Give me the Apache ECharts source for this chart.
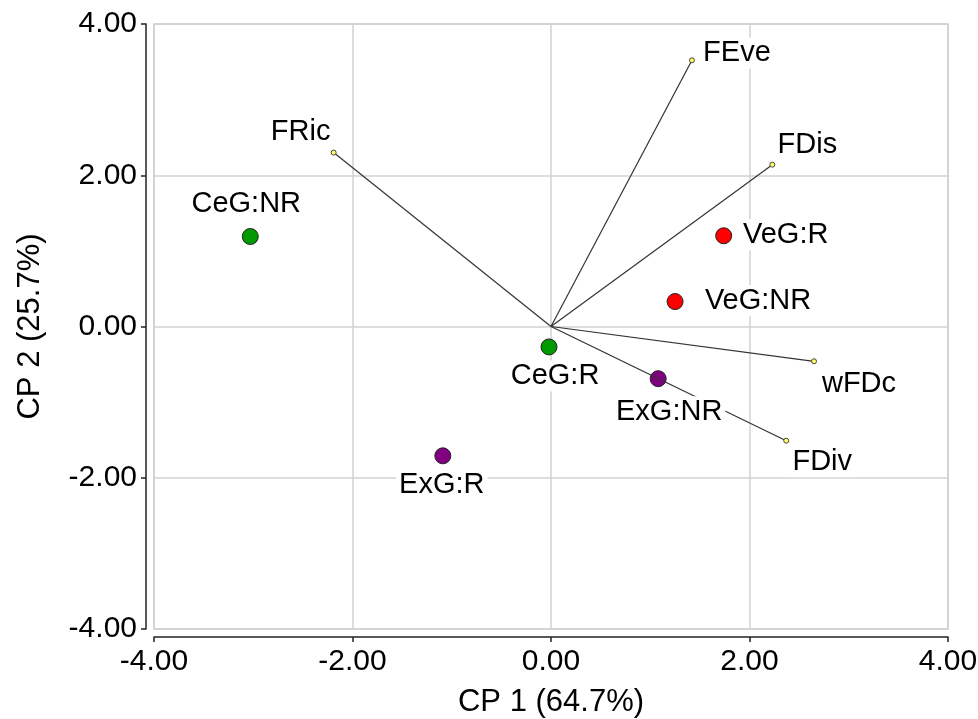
<!DOCTYPE html>
<html>
<head>
<meta charset="utf-8">
<script src="https://cdn.jsdelivr.net/npm/echarts@6/dist/echarts.min.js"></script>
<style>
html,body{margin:0;padding:0;background:#fff;}
#main{width:978px;height:719px;}
</style>
</head>
<body>
<div id="main"></div>
<script>
// ---- data ----
const scoreNames = ['CeG:NR', 'CeG:R', 'VeG:R', 'VeG:NR', 'ExG:NR', 'ExG:R'];
const scoreGroups = ['CeG', 'CeG', 'VeG', 'VeG', 'ExG', 'ExG'];
const scoreX = [-3.03, -0.02, 1.74, 1.25, 1.08, -1.09];
const scoreY = [1.19, -0.27, 1.20, 0.33, -0.69, -1.71];
const vectorNames = ['FEve', 'FDis', 'FRic', 'wFDc', 'FDiv'];
const vectorX = [1.42, 2.23, -2.19, 2.65, 2.37];
const vectorY = [3.52, 2.14, 2.30, -0.46, -1.51];
const axisTicks = [-4, -2, 0, 2, 4];
const xAxisTitle = 'CP 1 (64.7%)';
const yAxisTitle = 'CP 2 (25.7%)';

// ---- styling ----
const FONT = "'Liberation Sans', Arial, sans-serif";
const groupColors = { CeG: '#009a00', VeG: '#ff0000', ExG: '#800080' };
// label offsets (pixels, centre of text relative to the mark)
const scoreLabelOffsets = {
  'CeG:NR': [-4, -33], 'CeG:R': [6, 29], 'VeG:R': [62, -1],
  'VeG:NR': [83, -1], 'ExG:NR': [11, 33], 'ExG:R': [-1, 29]
};
const vectorLabelOffsets = {
  'FEve': [45, -7], 'FDis': [35, -20], 'FRic': [-33, -21],
  'wFDc': [45, 23], 'FDiv': [36, 21]
};

const chart = echarts.init(document.getElementById('main'));

const labelStyle = {
  show: true,
  position: 'inside',
  fontSize: 29,
  fontFamily: FONT,
  color: '#000',
  opacity: 1,
  backgroundColor: '#fff',
  padding: [1, 3]
};

const pointsData = scoreNames.map((n, i) => ({
  value: [scoreX[i], scoreY[i]],
  name: n,
  itemStyle: { color: groupColors[scoreGroups[i]] }
}));

const vectorLines = vectorNames.map((n, i) => ({
  coords: [[0, 0], [vectorX[i], vectorY[i]]]
}));

const vectorEnds = vectorNames.map((n, i) => ({ value: [vectorX[i], vectorY[i]], name: n }));

const labelData = scoreNames.map((n, i) => ({
  value: [scoreX[i], scoreY[i]], name: n,
  label: Object.assign({}, labelStyle, { offset: scoreLabelOffsets[n], formatter: n })
})).concat(vectorNames.map((n, i) => ({
  value: [vectorX[i], vectorY[i]], name: n,
  label: Object.assign({}, labelStyle, { offset: vectorLabelOffsets[n], formatter: n })
})));

const axisCommon = {
  type: 'value',
  min: axisTicks[0],
  max: axisTicks[axisTicks.length - 1],
  interval: axisTicks[1] - axisTicks[0],
  offset: 8,
  nameLocation: 'middle',
  nameMoveOverlap: false,
  nameTextStyle: { fontSize: 31, color: '#000', fontFamily: FONT },
  axisLine: { show: true, onZero: false, lineStyle: { color: '#222', width: 1.5 } },
  axisTick: { show: true, length: 5, lineStyle: { color: '#222', width: 1.5 } },
  axisLabel: { fontSize: 30, color: '#000', fontFamily: FONT, formatter: v => v.toFixed(2) },
  splitLine: { show: true, lineStyle: { color: '#d2d2d2', width: 1.5 } }
};

chart.setOption({
  animation: false,
  backgroundColor: '#fff',
  grid: {
    left: 154, right: 30, top: 24, bottom: 90,
    show: true, borderColor: '#cfcfcf', borderWidth: 1.5,
    outerBoundsMode: 'none'
  },
  xAxis: Object.assign({}, axisCommon, {
    name: xAxisTitle, nameGap: 50,
    axisLabel: Object.assign({}, axisCommon.axisLabel, { margin: 10 })
  }),
  yAxis: Object.assign({}, axisCommon, {
    name: yAxisTitle, nameGap: 100,
    axisLabel: Object.assign({}, axisCommon.axisLabel, { margin: 9 })
  }),
  series: [
    {
      type: 'scatter', z: 2,
      symbol: 'circle', symbolSize: 16,
      itemStyle: { borderColor: '#222', borderWidth: 1, opacity: 1 },
      data: pointsData,
      label: { show: false }
    },
    {
      type: 'lines', coordinateSystem: 'cartesian2d', z: 3,
      lineStyle: { color: '#333', width: 1.2, opacity: 1 },
      symbol: ['none', 'none'],
      data: vectorLines
    },
    {
      type: 'scatter', z: 3,
      symbol: 'circle', symbolSize: 5,
      itemStyle: { color: '#ffff66', borderColor: '#444', borderWidth: 1, opacity: 1 },
      data: vectorEnds
    },
    {
      type: 'scatter', z: 5,
      symbol: 'circle', symbolSize: 1,
      itemStyle: { color: 'rgba(0,0,0,0)', opacity: 1 },
      silent: true,
      data: labelData
    }
  ]
});
</script>
</body>
</html>
